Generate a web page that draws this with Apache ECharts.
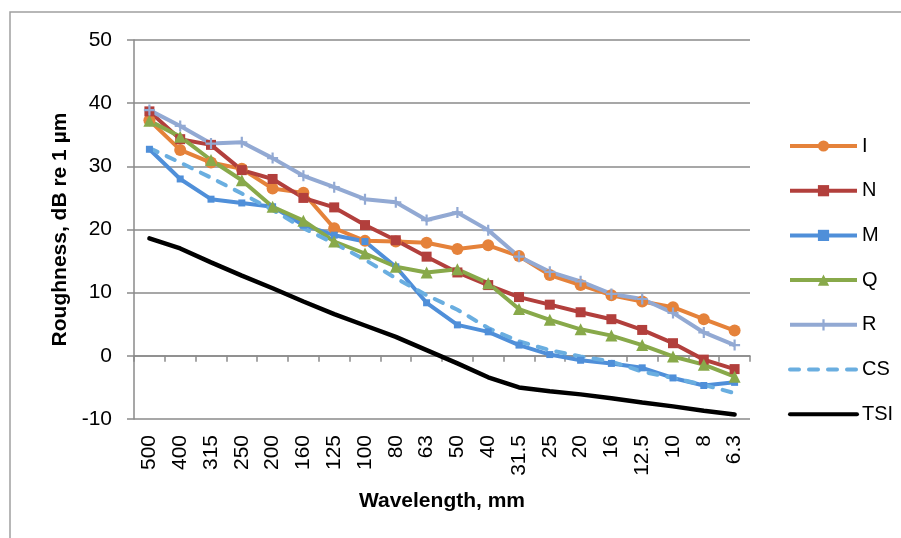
<!DOCTYPE html>
<html>
<head>
<meta charset="utf-8">
<script src="https://cdn.jsdelivr.net/npm/echarts@6/dist/echarts.min.js"></script>
<style>
  html, body { margin: 0; padding: 0; background: #fff; }
  #chart { width: 901px; height: 538px; }
</style>
</head>
<body>
<div id="chart"></div>
<script>
// wavelength bands, mm
const categories = ['500', '400', '315', '250', '200', '160', '125', '100', '80', '63',
  '50', '40', '31.5', '25', '20', '16', '12.5', '10', '8', '6.3'];

const seriesI = [37.3, 32.6, 30.6, 29.6, 26.5, 25.8, 20.2, 18.2, 18.1, 17.9, 16.9, 17.5, 15.8, 12.8, 11.2, 9.6, 8.6, 7.7, 5.8, 4.0];
const seriesN = [38.7, 34.3, 33.4, 29.4, 28.0, 25.0, 23.5, 20.7, 18.3, 15.7, 13.2, 11.2, 9.3, 8.1, 6.9, 5.8, 4.1, 2.0, -0.6, -2.1];
const seriesM = [32.7, 28.0, 24.8, 24.2, 23.6, 20.7, 19.1, 18.1, 14.1, 8.4, 4.9, 3.8, 1.7, 0.2, -0.7, -1.2, -1.9, -3.5, -4.7, -4.2];
const seriesQ = [37.2, 34.7, 31.0, 27.8, 23.6, 21.4, 18.1, 16.2, 14.1, 13.2, 13.7, 11.5, 7.4, 5.7, 4.2, 3.2, 1.7, -0.1, -1.4, -3.3];
const seriesR = [38.9, 36.4, 33.6, 33.8, 31.3, 28.5, 26.7, 24.8, 24.3, 21.5, 22.7, 19.9, 15.7, 13.3, 11.8, 9.8, 9.0, 6.8, 3.7, 1.7];
const seriesCS = [32.9, 30.6, 28.2, 25.7, 23.1, 20.2, 17.8, 15.2, 12.3, 9.6, 7.3, 4.4, 2.3, 0.9, -0.1, -0.9, -2.5, -3.5, -4.6, -5.9];
const seriesTSI = [18.6, 17.0, 14.8, 12.7, 10.7, 8.6, 6.6, 4.8, 3.0, 0.9, -1.2, -3.4, -5.0, -5.6, -6.1, -6.7, -7.4, -8.0, -8.7, -9.3];

const FONT = 'Liberation Sans';
const GRID_GRAY = '#8a8a8a';
const PLUS = 'path://M4,0H6V4H10V6H6V10H4V6H0V4H4Z';

function lineSeries(name, data, color, symbol, size, extra) {
  return Object.assign({
    name: name,
    type: 'line',
    xAxisIndex: 0,
    data: data,
    symbol: symbol,
    symbolSize: size,
    showSymbol: symbol !== 'none',
    itemStyle: { color: color },
    lineStyle: { color: color, width: 4 },
    emphasis: { disabled: true },
    animation: false
  }, extra || {});
}

const chart = echarts.init(document.getElementById('chart'));

chart.setOption({
  backgroundColor: '#fff',
  textStyle: { fontFamily: FONT },
  graphic: [{
    type: 'rect',
    shape: { x: 10, y: 12, width: 1000, height: 1000 },
    style: { fill: 'none', stroke: '#a0a0a0', lineWidth: 1.5 },
    silent: true
  }],
  grid: { left: 134, right: 151, top: 40, bottom: 119 },
  legend: {
    orient: 'vertical',
    left: 788,
    top: 136,
    padding: 0,
    itemWidth: 67,
    itemHeight: 14,
    itemGap: 24.7,
    lineStyle: { width: 4 },
    textStyle: { fontSize: 20, color: '#000', fontFamily: FONT },
    data: ['I', 'N', 'M', 'Q', 'R',
      { name: 'CS', itemStyle: { opacity: 0 } },
      { name: 'TSI', itemStyle: { opacity: 0 } }]
  },
  xAxis: [{
    type: 'category',
    data: categories,
    boundaryGap: true,
    axisLine: { onZero: true, lineStyle: { color: GRID_GRAY, width: 1.5 } },
    axisTick: { show: true, length: 6, interval: 0, lineStyle: { color: GRID_GRAY, width: 1.5 } },
    axisLabel: { show: false },
    splitLine: { show: false }
  }, {
    type: 'category',
    data: categories,
    position: 'bottom',
    boundaryGap: true,
    axisLine: { show: false, onZero: false },
    axisTick: { show: false },
    axisLabel: { interval: 0, rotate: 90, margin: 16, fontSize: 21, color: '#000', fontFamily: FONT },
    name: 'Wavelength, mm',
    nameLocation: 'middle',
    nameGap: 72,
    nameTextStyle: { fontSize: 21, fontWeight: 'bold', color: '#000', fontFamily: FONT }
  }],
  yAxis: {
    type: 'value',
    min: -10,
    max: 50,
    interval: 10,
    axisLine: { show: true, lineStyle: { color: GRID_GRAY, width: 1.5 } },
    axisTick: { show: true, length: 7, lineStyle: { color: GRID_GRAY, width: 1.5 } },
    axisLabel: { margin: 22, fontSize: 21, color: '#000', fontFamily: FONT },
    splitLine: { show: true, lineStyle: { color: GRID_GRAY, width: 1.5 } },
    name: 'Roughness, dB re 1 µm',
    nameLocation: 'middle',
    nameGap: 61,
    nameTextStyle: { fontSize: 21, fontWeight: 'bold', color: '#000', fontFamily: FONT }
  },
  series: [
    lineSeries('I', seriesI, '#e5823a', 'circle', 12),
    lineSeries('N', seriesN, '#b23f3c', 'rect', 10),
    lineSeries('M', seriesM, '#4f8fd9', 'rect', 7),
    lineSeries('Q', seriesQ, '#88a94a', 'triangle', 12),
    lineSeries('R', seriesR, '#92a9d3', PLUS, 11),
    lineSeries('CS', seriesCS, '#6aaee0', 'none', 0, {
      lineStyle: { color: '#6aaee0', width: 4, type: [9, 10], cap: 'round' }
    }),
    lineSeries('TSI', seriesTSI, '#000000', 'none', 0, {
      lineStyle: { color: '#000000', width: 4.5, cap: 'round' }
    })
  ]
});
</script>
</body>
</html>
